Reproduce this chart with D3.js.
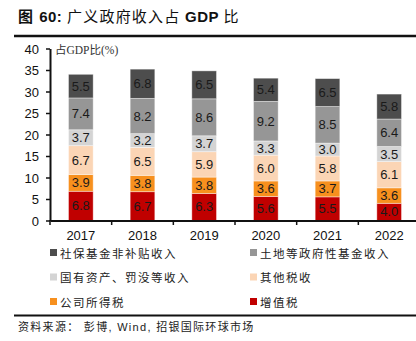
<!DOCTYPE html>
<html><head><meta charset="utf-8">
<script src="https://cdn.jsdelivr.net/npm/d3@7"></script>
<style>body{margin:0;background:#fff}svg{display:block}</style>
</head><body>
<svg id="c" width="416" height="341"></svg>
<script>
const years = ["2017","2018","2019","2020","2021","2022"];
const seriesNames = ["增值税","公司所得税","其他税收","国有资产、罚没等收入","土地等政府性基金收入","社保基金非补贴收入"];
const vat = [6.8,6.7,6.3,5.6,5.5,4.0];
const corpTax = [3.9,3.8,3.8,3.6,3.7,3.6];
const otherTax = [6.7,6.5,5.9,6.0,5.8,6.1];
const stateAssets = [3.7,3.2,3.7,3.3,3.0,3.5];
const landFund = [7.4,8.2,8.6,9.2,8.5,6.4];
const socialSec = [5.5,6.8,6.5,5.4,6.5,5.8];
const yTicks = [0,5,10,15,20,25,30,35,40];
const colors = ["#c00000","#f7901e","#fbd5b5","#d4d4d4","#969696","#4d4d4d"];

const seriesVals = [vat,corpTax,otherTax,stateAssets,landFund,socialSec];
const table = years.map((y,i)=>{const o={year:y};seriesNames.forEach((n,k)=>o[n]=seriesVals[k][i]);return o;});
const stacked = d3.stack().keys(seriesNames)(table);

const svg = d3.select("#c");
const font = "'Liberation Sans', Arial, sans-serif";

// header
const title = svg.append("text").attr("x",18).attr("y",22).attr("font-family","'Liberation Sans','Noto Sans CJK SC',sans-serif")
  .attr("font-size",15).attr("fill","#111");
[["图 ","bold",1],["60: ","bold",0.5],["广义政府收入占","normal",1.2],[" GDP ","bold",0.5],["比","normal",0]].forEach(([t,w,ls])=>{
  title.append("tspan").attr("font-weight",w).attr("letter-spacing",ls).text(t);
});
svg.append("line").attr("x1",14).attr("x2",416).attr("y1",36).attr("y2",36).attr("stroke","#111").attr("stroke-width",2.5);

const x = d3.scaleBand().domain(years).range([50,420]).paddingInner(0.6).paddingOuter(0.3);
const y = d3.scaleLinear().domain([0,40]).range([220.5,48.5]);

// bars
const g = svg.append("g");
stacked.forEach((s,k)=>{
  g.selectAll(null).data(s).enter().append("rect")
    .attr("x",d=>x(d.data.year)).attr("width",x.bandwidth())
    .attr("y",d=>y(d[1])).attr("height",d=>y(d[0])-y(d[1]))
    .attr("fill",colors[k]).attr("stroke","#ffffff").attr("stroke-opacity",0.5).attr("stroke-width",0.8);
  g.selectAll(null).data(s).enter().append("text")
    .attr("x",d=>x(d.data.year)+x.bandwidth()/2).attr("y",d=>(y(d[0])+y(d[1]))/2+4.5)
    .attr("text-anchor","middle").attr("font-family",font).attr("font-size",13).attr("fill","#1a1a1a")
    .text(d=>(d[1]-d[0]).toFixed(1));
});

// axes
const yAxis = svg.append("g").attr("transform","translate(50,0)")
  .call(d3.axisLeft(y).tickValues(yTicks).tickSize(4).tickSizeOuter(0));
yAxis.select(".domain").attr("stroke","#111").attr("stroke-width",2);
yAxis.selectAll(".tick line").attr("stroke","#111").attr("stroke-width",1.5);
yAxis.selectAll(".tick text").attr("font-family",font).attr("font-size",13).attr("fill","#111").attr("x",-11).attr("dy","0.36em");

const xAxis = svg.append("g").attr("transform","translate(0,220.5)")
  .call(d3.axisBottom(x).tickSize(0).tickSizeOuter(0));
xAxis.select(".domain").attr("stroke","#111").attr("stroke-width",2);
xAxis.selectAll(".tick text").attr("font-family",font).attr("font-size",13).attr("fill","#111").attr("dy","0").attr("y",19);
// band separator ticks
const step = x.step();
svg.append("g").selectAll("line").data(years).enter().append("line")
  .attr("x1",(d,i)=>50+step*(i+1)).attr("x2",(d,i)=>50+step*(i+1))
  .attr("y1",220.5).attr("y2",225).attr("stroke","#111").attr("stroke-width",1.5);
svg.append("line").attr("x1",50).attr("x2",50).attr("y1",220).attr("y2",225).attr("stroke","#111").attr("stroke-width",1.5);

// y-axis title
svg.append("text").attr("x",55).attr("y",54).attr("font-family","'Liberation Serif','Noto Sans CJK SC',serif")
  .attr("font-size",11.5).attr("fill","#333").text("占GDP比(%)");

// legend
const legendOrder = [5,4,3,2,1,0];
const lg = svg.append("g");
legendOrder.forEach((k,i)=>{
  const col = i%2, row = Math.floor(i/2);
  const lx = col===0?50:250, ly = 253+row*24.5;
  lg.append("rect").attr("x",lx).attr("y",ly-4).attr("width",7).attr("height",7).attr("fill",colors[k]);
  lg.append("text").attr("x",lx+10).attr("y",ly+4.5).attr("font-family","'Noto Sans CJK SC',sans-serif")
    .attr("font-size",11.5).attr("letter-spacing",1.5).attr("fill","#222").text(seriesNames[k]);
});

// footer
svg.append("line").attr("x1",14).attr("x2",416).attr("y1",315.5).attr("y2",315.5).attr("stroke","#111").attr("stroke-width",2);
svg.append("text").attr("x",18).attr("y",331).attr("font-family","'Liberation Sans','Noto Sans CJK SC',sans-serif")
  .attr("font-size",11).attr("letter-spacing",1.3).attr("fill","#222").text("资料来源： 彭博, Wind, 招银国际环球市场");
</script>
</body></html>
